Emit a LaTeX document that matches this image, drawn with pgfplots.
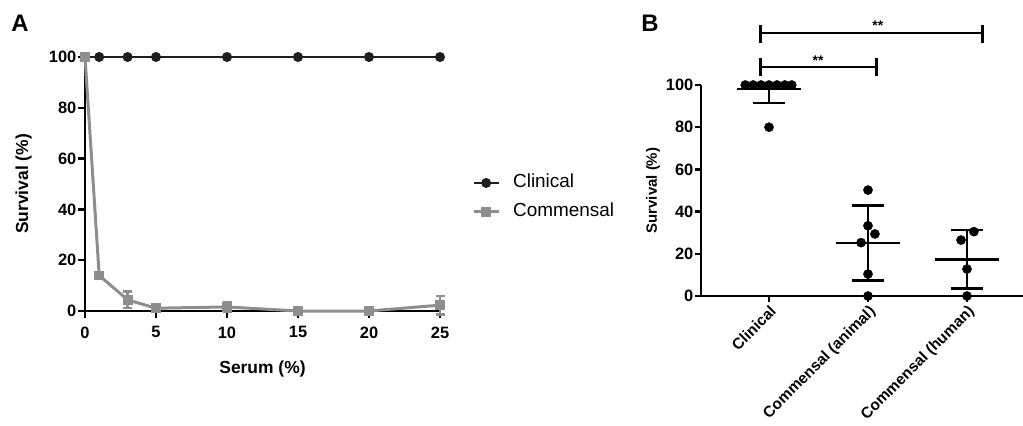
\documentclass[border=0pt]{standalone}
\usepackage{fontspec}
\setmainfont{Liberation Sans}
\usepackage{pgfplots}
\usepackage{pgfplotstable}
\pgfplotsset{compat=1.18}

\definecolor{clin}{HTML}{1E1E1E}
\definecolor{comm}{HTML}{8E8E8E}

% panel B: mean and SD per group
\pgfplotstableread{
x    m     ep    em
0    98.0  2.0   6.5
1    25.1  17.7  17.7
2    17.4  13.9  13.8
}\meansd

% panel B: single isolates (small jitter on x)
\pgfplotstableread{
x     y
-0.24 100
-0.16 100
-0.08 100
0     100
0.08  100
0.16  100
0.23  100
0     80
1     50.2
1     33.3
1.07  29.4
0.93  25.3
1     10.4
1     0
2.07  30.5
1.94  26.5
2     12.8
2     0
}\isolates

\pgfplotsset{
  panel/.style={
    scale only axis,
    axis lines=left,
    axis line style={-, line width=2.5bp, black},
    tick align=outside,
    major tick length=7bp,
    tick style={line width=2.5bp, black},
    ticklabel style={font=\bfseries\fontsize{16.5}{16.5}\selectfont},
    yticklabel style={inner xsep=1.5bp},
    /pgf/number format/assume math mode=true,
    label style={font=\bfseries\fontsize{17.5}{17.5}\selectfont},
    clip=false,
    ymin=0, ymax=100,
    ytick={0,20,...,100},
  },
}

\begin{document}
\begin{tikzpicture}
\useasboundingbox (0,0) rectangle (1023bp,-426bp);

% ---------------- A ----------------
\begin{axis}[panel,
    at={(85bp,-311bp)}, anchor=south west,
    width=355bp, height=254bp,
    xmin=0, xmax=25,
    xtick={0,5,...,25},
    xticklabel style={yshift=-5bp},
    xlabel={Serum (\%)},
    ylabel={Survival (\%)},
    xlabel style={at={(axis description cs:0.5,-0.228)}, anchor=center},
    ylabel style={at={(axis description cs:-0.173,0.5)}, anchor=center},
    legend style={draw=none, fill=none, at={(1.09,0.447)}, anchor=west,
      inner sep=0pt, row sep=7bp,
      font=\fontsize{19}{19}\selectfont,
      nodes={inner sep=2bp, text height=14bp, text depth=4bp},
      /tikz/every odd column/.append style={column sep=11bp}},
    legend cell align=left,
    legend image code/.code={%
      \draw[mark repeat=2, mark phase=2, #1]
        plot coordinates {(0bp,0bp) (12.5bp,0bp) (25bp,0bp)};},
  ]
  \addplot[clin, line width=2.5bp, mark=*, mark size=3.7bp]
    coordinates {(0,100) (1,100) (3,100) (5,100) (10,100) (15,100) (20,100) (25,100)};
  \addlegendentry{Clinical}
  \addplot[comm, line width=3bp, mark=square*, mark size=3.4bp,
      error bars/.cd, y dir=both, y explicit,
      error bar style={line width=2.5bp, comm},
      error mark options={rotate=90, line width=2.5bp, mark size=4.5bp, comm}]
    coordinates {
      (0,100) +- (0,0)
      (1,14) +- (0,1)
      (3,4.4) +- (0,3.3)
      (5,1.1) +- (0,0.5)
      (10,1.6) +- (0,2)
      (15,0) +- (0,0)
      (20,0) +- (0,0)
      (25,2.3) +- (0,3.6)
    };
  \addlegendentry{Commensal}
\end{axis}

% ---------------- B ----------------
\begin{axis}[panel,
    at={(701bp,-296bp)}, anchor=south west,
    width=322bp, height=211bp,
    xmin=-0.687, xmax=2.566,
    xtick={0,1,2},
    xticklabels={Clinical, Commensal (animal), Commensal (human)},
    xticklabel style={rotate=45, anchor=north east, inner sep=1.5bp,
      font=\bfseries\fontsize{15.5}{15.5}\selectfont},
    major tick length=6bp,
    ylabel={Survival (\%)},
    ylabel style={at={(axis description cs:-0.149,0.5)}, anchor=center,
      font=\bfseries\fontsize{15}{15}\selectfont},
  ]
  \addplot[only marks, black, mark=-, mark size=32bp,
      mark options={line width=2.5bp},
      error bars/.cd, y dir=both, y explicit,
      error bar style={line width=2.5bp, black},
      error mark options={rotate=90, line width=2.5bp, mark size=16bp, black}]
    table[x=x, y=m, y error plus=ep, y error minus=em] {\meansd};
  \addplot[only marks, black, mark=*, mark size=4.6bp]
    table[x=x, y=y] {\isolates};

  % significance brackets
  \draw[line width=2.7bp] (axis cs:-0.084,124.6) -- (axis cs:2.159,124.6);
  \draw[line width=2.7bp] (axis cs:-0.084,119.9) -- (axis cs:-0.084,128.4);
  \draw[line width=2.7bp] (axis cs:2.159,119.9) -- (axis cs:2.159,128.4);
  \node[font=\bfseries\fontsize{14}{14}\selectfont] at (axis cs:1.1,128) {**};
  \draw[line width=2.7bp] (axis cs:-0.084,108.5) -- (axis cs:1.088,108.5);
  \draw[line width=2.7bp] (axis cs:-0.084,104.3) -- (axis cs:-0.084,112.8);
  \draw[line width=2.7bp] (axis cs:1.088,104.3) -- (axis cs:1.088,112.8);
  \node[font=\bfseries\fontsize{14}{14}\selectfont] at (axis cs:0.495,111.4) {**};
\end{axis}

\node[font=\bfseries\fontsize{24}{24}\selectfont] at (20bp,-23bp) {A};
\node[font=\bfseries\fontsize{24}{24}\selectfont] at (650bp,-23bp) {B};
\end{tikzpicture}
\end{document}
